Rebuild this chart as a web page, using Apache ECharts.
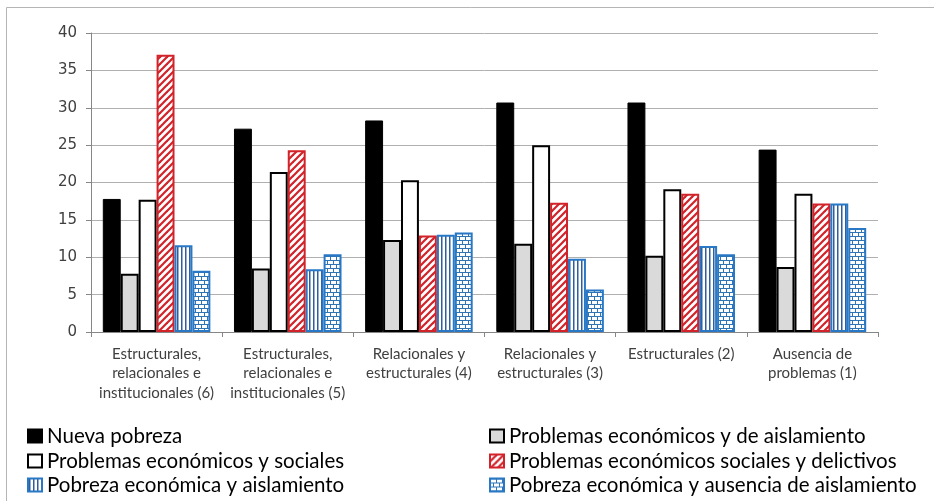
<!DOCTYPE html>
<html>
<head>
<meta charset="utf-8">
<script src="https://cdn.jsdelivr.net/npm/echarts@6/dist/echarts.min.js"></script>
<style>
html,body{margin:0;padding:0;background:#fff;}
#chart{width:934px;height:501px;}
</style>
</head>
<body>
<div id="chart"></div>
<script>
const categories = [
  'Estructurales,\nrelacionales e\ninstitucionales (6)',
  'Estructurales,\nrelacionales e\ninstitucionales (5)',
  'Relacionales y\nestructurales (4)',
  'Relacionales y\nestructurales (3)',
  'Estructurales (2)',
  'Ausencia de\nproblemas (1)'
];
const seriesNames = [
  'Nueva pobreza',
  'Problemas económicos y de aislamiento',
  'Problemas económicos y sociales',
  'Problemas económicos sociales y delictivos',
  'Pobreza económica y aislamiento',
  'Pobreza económica y ausencia de aislamiento'
];
const nuevaPobreza = [17.8, 27.2, 28.3, 30.7, 30.7, 24.4];
const econAislamiento = [7.8, 8.5, 12.3, 11.8, 10.2, 8.7];
const econSociales = [17.7, 21.4, 20.3, 25.0, 19.1, 18.5];
const econDelictivos = [37.1, 24.3, 12.9, 17.3, 18.5, 17.2];
const pobrezaAislamiento = [11.6, 8.4, 13.0, 9.8, 11.5, 17.2];
const pobrezaAusencia = [8.2, 10.4, 13.3, 5.7, 10.4, 13.9];
const yTicks = { min: 0, max: 40, interval: 5 };

function mk(w, h, draw) {
  const c = document.createElement('canvas');
  c.width = w; c.height = h;
  const ctx = c.getContext('2d');
  ctx.fillStyle = '#ffffff';
  ctx.fillRect(0, 0, w, h);
  draw(ctx);
  return c;
}
const RED = '#d2232a';
const BLUE = '#2878c6';
const stripe = mk(7, 7, ctx => {
  ctx.strokeStyle = RED; ctx.lineWidth = 2.2;
  [[-7,7,7,-7],[0,7,7,0],[0,14,14,0]].forEach(l => {
    ctx.beginPath(); ctx.moveTo(l[0], l[1]); ctx.lineTo(l[2], l[3]); ctx.stroke();
  });
});
const vlines = mk(4, 4, ctx => {
  ctx.fillStyle = '#2f5d9e';
  ctx.fillRect(1, 0, 1.5, 4);
});
const brick = mk(6, 8, ctx => {
  ctx.fillStyle = '#2f75b5';
  ctx.fillRect(0, 0, 6, 1);
  ctx.fillRect(0, 4, 6, 1);
  ctx.fillRect(0, 0, 1, 4);
  ctx.fillRect(3, 4, 1, 4);
});

const styles = [
  { color: '#000000', borderColor: '#000000', borderWidth: 1 },
  { color: '#dadada', borderColor: '#000000', borderWidth: 2 },
  { color: '#ffffff', borderColor: '#000000', borderWidth: 2 },
  { color: { image: stripe, repeat: 'repeat' }, borderColor: RED, borderWidth: 2 },
  { color: { image: vlines, repeat: 'repeat' }, borderColor: BLUE, borderWidth: 2 },
  { color: { image: brick, repeat: 'repeat' }, borderColor: BLUE, borderWidth: 2 }
];
const dataArr = [nuevaPobreza, econAislamiento, econSociales, econDelictivos, pobrezaAislamiento, pobrezaAusencia];

const FONT = 'Lato';
const chart = echarts.init(document.getElementById('chart'));
const legendText = { fontFamily: FONT, fontSize: 20.5, color: '#000000', lineHeight: 22 };
const legendPos = [[27, 425], [489, 425], [27, 450], [489, 450], [27, 474], [489, 474]];
chart.setOption({
  animation: false,
  backgroundColor: '#ffffff',
  graphic: [{
    type: 'rect', silent: true, z: -1,
    shape: { x: 6.5, y: 7.5, width: 1000, height: 1000 },
    style: { fill: 'none', stroke: '#b5b5b5', lineWidth: 1 }
  }],
  grid: { left: 91, right: 56, top: 33, bottom: 169, containLabel: false, outerBoundsMode: 'none' },
  legend: seriesNames.map((n, i) => ({
    orient: 'horizontal', left: legendPos[i][0], top: legendPos[i][1], padding: 0,
    itemWidth: 14, itemHeight: 13, itemGap: 0,
    icon: 'rect', textStyle: legendText, data: [n]
  })),
  xAxis: {
    type: 'category',
    data: categories,
    axisLine: { show: true, lineStyle: { color: '#868686', width: 1 } },
    axisTick: { show: true, length: 5, lineStyle: { color: '#868686' } },
    axisLabel: { fontFamily: FONT, fontSize: 15, color: '#404040', lineHeight: 19.5, margin: 12, interval: 0 },
    splitLine: { show: false }
  },
  yAxis: {
    type: 'value',
    min: yTicks.min, max: yTicks.max, interval: yTicks.interval,
    axisLine: { show: true, lineStyle: { color: '#868686', width: 1 } },
    axisTick: { show: true, length: 5, lineStyle: { color: '#868686' } },
    axisLabel: { fontFamily: 'DejaVu Sans', fontSize: 15, color: '#404040', margin: 14 },
    splitLine: { show: true, lineStyle: { color: '#b0b0b0', width: 1 } }
  },
  series: seriesNames.map((n, i) => ({
    name: n,
    type: 'bar',
    data: dataArr[i],
    barGap: '0%',
    barCategoryGap: '18%',
    itemStyle: styles[i],
    emphasis: { disabled: true }
  }))
});
</script>
</body>
</html>
